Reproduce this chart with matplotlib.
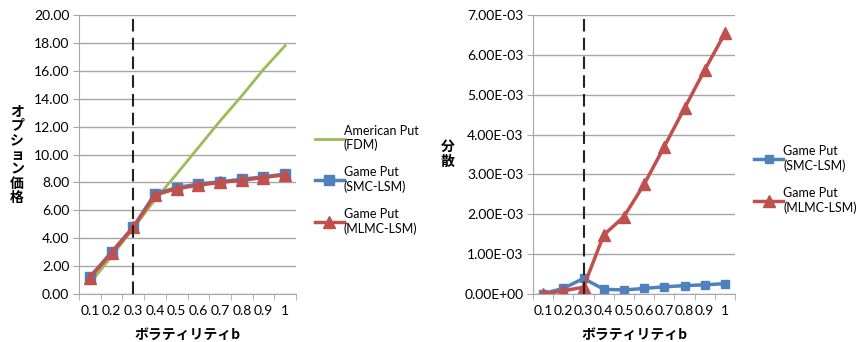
import numpy as np
import matplotlib.pyplot as plt
from matplotlib.ticker import FixedLocator, FuncFormatter

plt.rcParams['font.family'] = ['Lato', 'Noto Sans CJK JP', 'DejaVu Sans']

# volatility categories
vol = ['0.1', '0.2', '0.3', '0.4', '0.5', '0.6', '0.7', '0.8', '0.9', '1']
vol_marker = '0.3'

# option prices
american_fdm = [0.75, 2.7, 4.7, 6.75, 8.6, 10.5, 12.4, 14.2, 16.1, 17.8]
game_smc_price = [1.22, 3.0, 4.8, 7.18, 7.62, 7.88, 8.05, 8.22, 8.4, 8.6]
game_mlmc_price = [1.15, 2.95, 4.78, 7.1, 7.55, 7.8, 8.0, 8.15, 8.35, 8.55]

# variance
game_smc_var = [0.01e-3, 0.14e-3, 0.39e-3, 0.12e-3, 0.10e-3, 0.14e-3, 0.18e-3, 0.21e-3, 0.23e-3, 0.26e-3]
game_mlmc_var = [0.0, 0.08e-3, 0.17e-3, 1.48e-3, 1.94e-3, 2.75e-3, 3.7e-3, 4.66e-3, 5.62e-3, 6.54e-3]

GREEN = '#9BBB59'
BLUE = '#4F81BD'
RED = '#C0504D'
GRID = '#A6A6A6'
CJK = ['Noto Sans CJK JP', 'DejaVu Sans']

fig = plt.figure(figsize=(8.56, 3.42), dpi=100)
ax1 = fig.add_axes([79 / 856, 48 / 342, 217 / 856, 279 / 342])
ax2 = fig.add_axes([533 / 856, 48 / 342, 202 / 856, 279 / 342])

x = np.arange(len(vol))


def style_axis(ax, yticks):
    ax.set_xlim(-0.5, len(vol) - 0.5)
    ax.set_ylim(yticks[0], yticks[-1])
    ax.set_yticks(yticks)
    ax.set_xticks(x)
    ax.set_xticklabels(vol)
    ax.xaxis.set_minor_locator(FixedLocator(np.arange(-0.5, len(vol), 1.0)))
    ax.tick_params(axis='x', which='major', length=0, labelsize=10, pad=8)
    ax.tick_params(axis='x', which='minor', length=4, color=GRID)
    ax.tick_params(axis='y', length=4, color=GRID, labelsize=10, pad=3)
    ax.grid(axis='y', color=GRID, linewidth=1)
    ax.set_axisbelow(True)
    for s in ['top', 'right']:
        ax.spines[s].set_visible(False)
    for s in ['left', 'bottom']:
        ax.spines[s].set_color(GRID)
    ax.axvline(vol.index(vol_marker), color='#222222', linestyle=(0, (6, 3)), linewidth=1.5, zorder=5)
    ax.set_xlabel('ボラティリティb', fontsize=10, fontweight='bold', family=CJK, labelpad=8)


# left: option price
l1, = ax1.plot(x, american_fdm, color=GREEN, linewidth=2)
l2, = ax1.plot(x, game_smc_price, color=BLUE, linewidth=2.5, marker='s', markersize=7)
l3, = ax1.plot(x, game_mlmc_price, color=RED, linewidth=2.5, marker='^', markersize=8)
style_axis(ax1, np.arange(0, 20.01, 2.0))
ax1.yaxis.set_major_formatter(FuncFormatter(lambda v, p: f'{v:.2f}'))
ax1.set_ylabel('\n'.join('オプション価格'), rotation=0, fontsize=10, fontweight='bold',
               family=CJK, labelpad=12, va='center', linespacing=1.05)
ax1.legend([l1, l2, l3], ['American Put\n(FDM)', 'Game Put\n(SMC-LSM)', 'Game Put\n(MLMC-LSM)'],
           loc='center left', bbox_to_anchor=(1.035, 0.41), frameon=False, fontsize=9,
           handlelength=2.3, handletextpad=0.0, labelspacing=1.2)

# right: variance
r1, = ax2.plot(x, game_smc_var, color=BLUE, linewidth=2.5, marker='s', markersize=6)
r2, = ax2.plot(x, game_mlmc_var, color=RED, linewidth=2.5, marker='^', markersize=8)
style_axis(ax2, np.arange(0, 7.01e-3, 1e-3))
ax2.yaxis.set_major_formatter(FuncFormatter(lambda v, p: f'{v:.2E}'))
ax2.set_ylabel('分\n散', rotation=0, fontsize=10, fontweight='bold', family=CJK,
               labelpad=12, va='center', linespacing=1.05)
ax2.legend([r1, r2], ['Game Put\n(SMC-LSM)', 'Game Put\n(MLMC-LSM)'],
           loc='center left', bbox_to_anchor=(1.04, 0.41), frameon=False, fontsize=9,
           handlelength=2.3, handletextpad=0.0, labelspacing=1.2)

fig.savefig('out.png', dpi=100)
